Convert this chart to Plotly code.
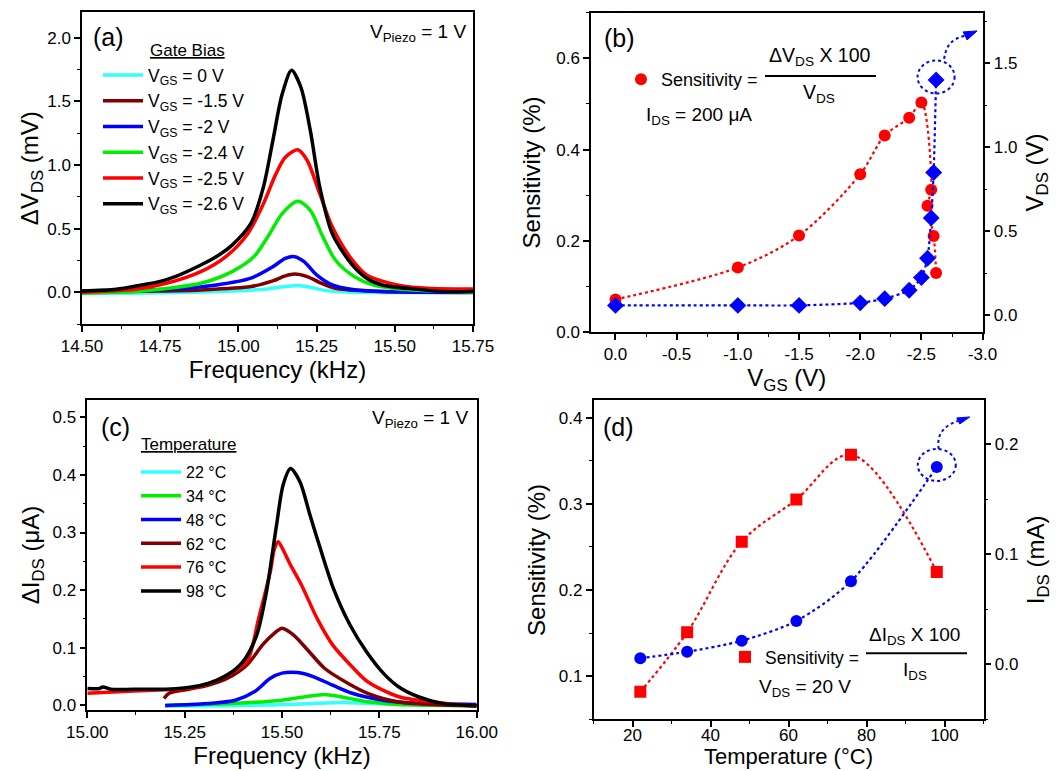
import plotly.graph_objects as go

W, H = 1056, 771
FONT = "Liberation Sans, Arial, sans-serif"


def px(x):
    return x / W


def py(y):
    return 1 - y / H


# ---------------- Panel (a): dV_DS vs frequency at gate biases ----------------
a_names = ["V<sub>GS</sub> = 0 V", "V<sub>GS</sub> = -1.5 V", "V<sub>GS</sub> = -2 V",
           "V<sub>GS</sub> = -2.4 V", "V<sub>GS</sub> = -2.5 V", "V<sub>GS</sub> = -2.6 V"]
a_colors = ["#33FFFF", "#800000", "#0000FF", "#00EE00", "#FF0000", "#000000"]

a_f0 = [14.50, 14.75, 14.98, 15.09, 15.15, 15.19, 15.23, 15.28, 15.36, 15.50, 15.75]
a_v0 = [-0.008, -0.004, 0.010, 0.026, 0.044, 0.052, 0.039, 0.013, 0.0, -0.003, -0.003]
a_f1 = [14.50, 14.70, 14.88, 15.04, 15.11, 15.15, 15.18, 15.22, 15.26, 15.31, 15.41, 15.55, 15.75]
a_v1 = [0.0, 0.008, 0.018, 0.044, 0.089, 0.128, 0.143, 0.123, 0.076, 0.031, 0.010, 0.003, 0.0]
a_f2 = [14.50, 14.77, 14.93, 15.04, 15.11, 15.15, 15.18, 15.21, 15.25, 15.30, 15.36, 15.46, 15.75]
a_v2 = [0.010, 0.023, 0.057, 0.110, 0.200, 0.266, 0.279, 0.240, 0.136, 0.057, 0.023, 0.005, -0.003]
a_f3 = [14.50, 14.67, 14.77, 14.88, 14.98, 15.05, 15.10, 15.14, 15.19, 15.23, 15.27, 15.31, 15.37,
        15.43, 15.52, 15.75]
a_v3 = [-0.008, 0.005, 0.029, 0.070, 0.162, 0.280, 0.460, 0.618, 0.714, 0.644, 0.435, 0.253, 0.123,
        0.057, 0.023, 0.0]
a_f4 = [14.50, 14.67, 14.77, 14.88, 14.96, 15.03, 15.08, 15.12, 15.15, 15.19, 15.22, 15.26, 15.30,
        15.36, 15.41, 15.52, 15.62, 15.75]
a_v4 = [0.0, 0.023, 0.070, 0.162, 0.280, 0.460, 0.696, 0.930, 1.060, 1.119, 1.035, 0.774, 0.514,
        0.266, 0.136, 0.050, 0.029, 0.026]
a_f5 = [14.50, 14.61, 14.69, 14.75, 14.80, 14.88, 14.93, 14.98, 15.04, 15.08, 15.11, 15.14,
        15.17, 15.20, 15.23, 15.26, 15.30, 15.36, 15.41, 15.46, 15.57, 15.65, 15.75]
a_v5 = [0.010, 0.023, 0.057, 0.085, 0.125, 0.214, 0.280, 0.370, 0.540, 0.827, 1.190, 1.557,
        1.744, 1.609, 1.270, 0.827, 0.460, 0.227, 0.110, 0.057, 0.023, 0.005, 0.005]
a_freqs = [a_f0, a_f1, a_f2, a_f3, a_f4, a_f5]
a_vals = [a_v0, a_v1, a_v2, a_v3, a_v4, a_v5]

# ---------------- Panel (b): sensitivity & V_DS vs V_GS ----------------
b_vgs = [0.0, -1.0, -1.5, -2.0, -2.2, -2.4, -2.5, -2.55, -2.58, -2.60, -2.62]
b_sens = [0.072, 0.142, 0.212, 0.346, 0.431, 0.470, 0.503, 0.277, 0.312, 0.211, 0.130]
b_vds = [0.06, 0.06, 0.06, 0.075, 0.10, 0.15, 0.225, 0.34, 0.58, 0.85, 1.40]
b_xtickvals = [0.0, -0.5, -1.0, -1.5, -2.0, -2.5, -3.0]
b_xticktext = ["0.0", "-0.5", "-1.0", "-1.5", "-2.0", "-2.5", "-3.0"]

# ---------------- Panel (c): dI_DS vs frequency at temperatures ----------------
c_names = ["22 °C", "34 °C", "48 °C", "62 °C", "76 °C", "98 °C"]
c_colors = ["#33FFFF", "#00EE00", "#0000FF", "#800000", "#FF0000", "#000000"]
c_f0 = [15.20, 15.46, 15.59, 15.65, 15.72, 15.85, 16.00]
c_v0 = [-0.001, 0.0006, 0.0035, 0.005, 0.0035, 0.0006, 0.0]
c_f1 = [15.20, 15.38, 15.50, 15.56, 15.61, 15.65, 15.72, 15.80, 16.00]
c_v1 = [0.0, 0.0035, 0.009, 0.015, 0.019, 0.015, 0.0064, 0.0017, 0.0]
c_f2 = [15.20, 15.29, 15.38, 15.43, 15.47, 15.50, 15.54, 15.58, 15.63, 15.68, 15.76, 15.85, 16.00]
c_v2 = [0.0, 0.0023, 0.009, 0.024, 0.047, 0.056, 0.057, 0.050, 0.035, 0.021, 0.009, 0.0035, 0.0017]
c_f3 = [15.197, 15.21, 15.26, 15.31, 15.36, 15.41, 15.45, 15.48, 15.50, 15.53, 15.57, 15.61, 15.67,
        15.72, 15.80, 16.00]
c_v3 = [0.012, 0.021, 0.028, 0.035, 0.047, 0.070, 0.105, 0.125, 0.134, 0.122, 0.093, 0.064, 0.038,
        0.021, 0.006, -0.0006]
c_f4 = [15.00, 15.12, 15.20, 15.26, 15.31, 15.36, 15.41, 15.44, 15.47, 15.48, 15.49, 15.50, 15.52,
        15.55, 15.59, 15.63, 15.68, 15.72, 15.80, 15.90, 16.00]
c_v4 = [0.021, 0.025, 0.027, 0.0295, 0.037, 0.053, 0.076, 0.151, 0.232, 0.270, 0.284, 0.274, 0.246,
        0.209, 0.151, 0.105, 0.067, 0.041, 0.015, 0.005, -0.002]
c_f5 = [15.00, 15.03, 15.04, 15.06, 15.12, 15.20, 15.26, 15.31, 15.36, 15.40, 15.435, 15.46, 15.486,
        15.503, 15.522, 15.546, 15.572, 15.598, 15.632, 15.675, 15.717, 15.76, 15.80, 15.85, 15.91, 16.00]
c_v5 = [0.0295, 0.029, 0.032, 0.028, 0.028, 0.028, 0.031, 0.038, 0.053, 0.076, 0.122, 0.197, 0.313,
        0.383, 0.411, 0.388, 0.330, 0.273, 0.203, 0.139, 0.093, 0.056, 0.032, 0.015, 0.0035, -0.0006]
c_freqs = [c_f0, c_f1, c_f2, c_f3, c_f4, c_f5]
c_vals = [c_v0, c_v1, c_v2, c_v3, c_v4, c_v5]

# ---------------- Panel (d): sensitivity & I_DS vs temperature ----------------
d_temp = [22, 34, 48, 62, 76, 98]
d_sens = [0.082, 0.151, 0.256, 0.305, 0.357, 0.221]
d_ids = [0.0056, 0.0115, 0.0215, 0.0395, 0.0756, 0.1795]

RED = "#FF0000"
BLUE = "#0000FF"

fig = go.Figure()

for f, v, n, c in zip(a_freqs, a_vals, a_names, a_colors):
    fig.add_trace(go.Scatter(x=f, y=v, name=n, mode="lines", xaxis="x", yaxis="y",
                             line=dict(color=c, width=3.5, shape="spline", smoothing=0.8),
                             legend="legend"))

for f, v, n, c in zip(c_freqs, c_vals, c_names, c_colors):
    fig.add_trace(go.Scatter(x=f, y=v, name=n, mode="lines", xaxis="x3", yaxis="y4",
                             line=dict(color=c, width=3.5, shape="spline", smoothing=0.8),
                             legend="legend2"))

# panel (b): line order follows the curve (rising part, then falling part by value)
rise = list(range(7))
fall = sorted(range(7, len(b_vgs)), key=lambda i: -b_sens[i])
order = rise + fall
fig.add_trace(go.Scatter(x=[b_vgs[i] for i in order], y=[b_sens[i] for i in order], mode="lines",
                         xaxis="x2", yaxis="y2", showlegend=False,
                         line=dict(color=RED, width=2.2, dash="dot", shape="spline", smoothing=0.9)))
fig.add_trace(go.Scatter(x=b_vgs, y=b_sens, mode="markers", name="Sensitivity =",
                         xaxis="x2", yaxis="y2", legend="legend3",
                         marker=dict(color=RED, size=12, symbol="circle")))
fig.add_trace(go.Scatter(x=b_vgs, y=b_vds, mode="lines+markers", xaxis="x2", yaxis="y3",
                         showlegend=False,
                         line=dict(color=BLUE, width=2.2, dash="dot", shape="spline", smoothing=0.6),
                         marker=dict(color=BLUE, size=13, symbol="diamond")))

# panel (d)
fig.add_trace(go.Scatter(x=d_temp, y=d_sens, mode="lines", xaxis="x4", yaxis="y5", showlegend=False,
                         line=dict(color=RED, width=2.2, dash="dot", shape="spline", smoothing=1.0)))
fig.add_trace(go.Scatter(x=d_temp, y=d_sens, mode="markers", name="Sensitivity =",
                         xaxis="x4", yaxis="y5", legend="legend4",
                         marker=dict(color=RED, size=12, symbol="square")))
fig.add_trace(go.Scatter(x=d_temp, y=d_ids, mode="lines+markers", xaxis="x4", yaxis="y6",
                         showlegend=False,
                         line=dict(color=BLUE, width=2.2, dash="dot", shape="spline", smoothing=0.8),
                         marker=dict(color=BLUE, size=12, symbol="circle")))


def axis(**kw):
    base = dict(showline=True, linecolor="black", linewidth=1.5, mirror=True, ticks="outside",
                ticklen=6, tickwidth=1.5, tickcolor="black", showgrid=False, zeroline=False,
                automargin=False, tickfont=dict(size=17, color="black", family=FONT),
                title_font=dict(size=24, color="black", family=FONT))
    base.update(kw)
    return base


def minor(dt):
    return dict(ticks="outside", ticklen=3, tickwidth=1.2, tickcolor="black", dtick=dt, showgrid=False)


XD = [593.5, 983.6]
layout = dict(
    width=W, height=H, margin=dict(l=0, r=0, t=0, b=0),
    paper_bgcolor="white", plot_bgcolor="white",
    font=dict(family=FONT, color="black", size=17),
    # (a)
    xaxis=axis(domain=[px(82), px(473)], anchor="y", range=[14.5, 15.75], dtick=0.25, tick0=14.5,
               tickformat=".2f", minor=minor(0.125),
               title=dict(text="Frequency (kHz)", standoff=3)),
    yaxis=axis(domain=[py(324), py(12.3)], anchor="x", range=[-0.25, 2.2], dtick=0.5, tick0=0,
               tickformat=".1f", minor=minor(0.25),
               title=dict(text="ΔV<sub>DS</sub> (mV)", standoff=2)),
    # (b)
    xaxis2=axis(domain=[px(591), px(982.6)], anchor="y2", range=[0.2, -3.0],
                tickvals=b_xtickvals, ticktext=b_xticktext, minor=minor(0.25),
                title=dict(text="V<sub>GS</sub> (V)", standoff=0)),
    yaxis2=axis(domain=[py(332.3), py(12.6)], anchor="x2", range=[0, 0.7], dtick=0.2, tick0=0,
                tickformat=".1f", minor=minor(0.1),
                title=dict(text="Sensitivity (%)", standoff=9)),
    yaxis3=axis(overlaying="y2", side="right", anchor="x2", range=[-0.1, 1.8], dtick=0.5, tick0=0,
                tickformat=".1f", minor=minor(0.25), mirror=False,
                title=dict(text="V<sub>DS</sub> (V)", standoff=10)),
    # (c)
    xaxis3=axis(domain=[px(87.3), px(476.7)], anchor="y4", range=[15.0, 16.0], dtick=0.25, tick0=15,
                tickformat=".2f", minor=minor(0.125),
                title=dict(text="Frequency (kHz)", standoff=3)),
    yaxis4=axis(domain=[py(710), py(400)], anchor="x3", range=[-0.008, 0.53], dtick=0.1, tick0=0,
                tickformat=".1f", minor=minor(0.05),
                title=dict(text="ΔI<sub>DS</sub> (μA)", standoff=6)),
    # (d)
    xaxis4=axis(domain=[px(XD[0]), px(XD[1])], anchor="y5", range=[10, 110], dtick=20, tick0=0,
                minor=minor(10), ticklabelstandoff=-7),
    yaxis5=axis(domain=[py(719.4), py(400.4)], anchor="x4", range=[0.05, 0.42], dtick=0.1, tick0=0,
                tickformat=".1f", minor=minor(0.05),
                title=dict(text="Sensitivity (%)", standoff=6)),
    yaxis6=axis(overlaying="y5", side="right", anchor="x4", range=[-0.05, 0.24], dtick=0.1, tick0=0,
                tickformat=".1f", minor=minor(0.05), mirror=False,
                title=dict(text="I<sub>DS</sub> (mA)", standoff=10)),
    legend=dict(x=px(98), y=py(57), xanchor="left", yanchor="top", bgcolor="rgba(0,0,0,0)",
                font=dict(size=17.5), itemwidth=40, tracegroupgap=0),
    legend2=dict(x=px(136), y=py(455), xanchor="left", yanchor="top", bgcolor="rgba(0,0,0,0)",
                 font=dict(size=16), itemwidth=40, tracegroupgap=0),
    legend3=dict(x=px(621), y=py(61), xanchor="left", yanchor="top", bgcolor="rgba(0,0,0,0)",
                 font=dict(size=18)),
    legend4=dict(x=px(725), y=py(639), xanchor="left", yanchor="top", bgcolor="rgba(0,0,0,0)",
                 font=dict(size=17.5)),
)
fig.update_layout(**layout)


def note(text, x, y, xanchor="left", yanchor="middle", size=17):
    fig.add_annotation(text=text, x=px(x), y=py(y), xref="paper", yref="paper", showarrow=False,
                       xanchor=xanchor, yanchor=yanchor, font=dict(size=size, color="black", family=FONT))


# panel (d) x-axis title (placed as text so it can sit as low as in the reference)
note("Temperature (°C)", (XD[0] + XD[1]) / 2, 771, xanchor="center", yanchor="bottom", size=22)

# panel labels and notes
note("(a)", 91, 37, size=25)
note("(b)", 602, 38, size=25)
note("(c)", 99, 427, size=25)
note("(d)", 601, 427, size=25)
note("V<sub>Piezo</sub> = 1 V", 468, 19, xanchor="right", yanchor="top", size=19)
note("V<sub>Piezo</sub> = 1 V", 470, 405, xanchor="right", yanchor="top", size=19)
note("<u>Gate Bias</u>", 187, 51, xanchor="center", size=17)
note("<u>Temperature</u>", 188, 445, xanchor="center", size=17)
# fraction (b)
note("ΔV<sub>DS</sub> X 100", 820, 71, xanchor="center", yanchor="bottom", size=19.5)
note("V<sub>DS</sub>", 819, 79, xanchor="center", yanchor="top", size=19.5)
note("I<sub>DS</sub> = 200 μA", 644, 116, size=19)
fig.add_shape(type="line", xref="paper", yref="paper", x0=px(765), x1=px(876), y0=py(76), y1=py(76),
              line=dict(color="black", width=2))
# fraction (d)
note("ΔI<sub>DS</sub> X 100", 914, 650, xanchor="center", yanchor="bottom", size=19)
note("I<sub>DS</sub>", 915, 657, xanchor="center", yanchor="top", size=19)
note("V<sub>DS</sub> = 20 V", 757, 688, size=19)
fig.add_shape(type="line", xref="paper", yref="paper", x0=px(866), x1=px(967), y0=py(653.3),
              y1=py(653.3), line=dict(color="black", width=2))


# dashed circle + curved arrow highlighting the last V_DS / I_DS point
def highlight(xref, yref, xa, ya, rx, ry, dy, curve, tip):
    fig.add_shape(type="circle", xref=xref, yref=yref, xsizemode="pixel", ysizemode="pixel",
                  xanchor=xa, yanchor=ya, x0=-rx, x1=rx, y0=-ry + dy, y1=ry + dy,
                  line=dict(color=BLUE, width=2, dash="3px,3px"))
    fig.add_shape(type="path", xref=xref, yref=yref, xsizemode="pixel", ysizemode="pixel",
                  xanchor=xa, yanchor=ya, path=curve,
                  line=dict(color=BLUE, width=2, dash="3px,3px"))
    fig.add_shape(type="path", xref=xref, yref=yref, xsizemode="pixel", ysizemode="pixel",
                  xanchor=xa, yanchor=ya, path=tip, fillcolor=BLUE,
                  line=dict(color=BLUE, width=1))


highlight("x2", "y3", b_vgs[-1], b_vds[-1], 18.5, 16.5, 3,
          "M8,21 C10,33 14,41 29,44", "M27,48 L41,49 L31,40 Z")
highlight("x4", "y6", d_temp[-1], d_ids[-1], 19, 16, 2,
          "M2,18 C0,30 4,40 21,46", "M20,49 L33,50 L23,43 Z")

fig.write_html("out.html")
